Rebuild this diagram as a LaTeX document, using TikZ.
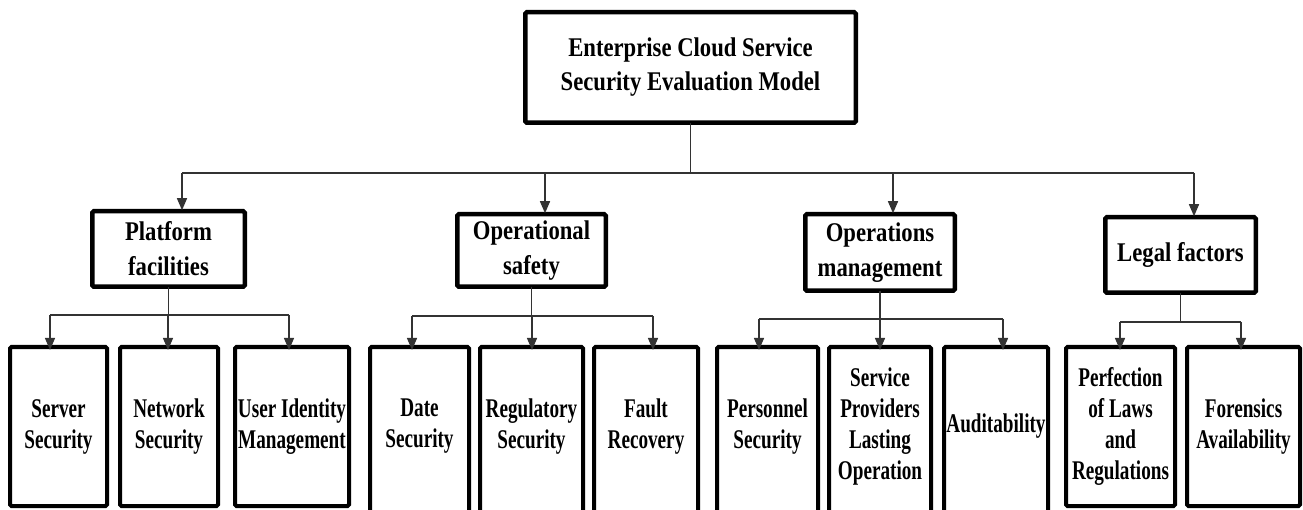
\documentclass[tikz,border=0pt]{standalone}
\usepackage{fontspec}
\newfontfamily\hdfont{Liberation Serif}[FakeStretch=0.84]
\newfontfamily\lffont{Liberation Serif}[FakeStretch=0.71]
\usetikzlibrary{arrows.meta,calc}

\begin{document}
\begin{tikzpicture}[x=1pt,y=-1pt,
  box/.style={draw, rectangle, rounded corners=1.5pt, outer sep=0pt, inner sep=1pt, align=center},
  titlebox/.style={box, line width=4.5pt, minimum width=330.5pt, minimum height=110.5pt,
    font=\hdfont\bfseries\fontsize{27}{34}\selectfont},
  headbox/.style={box, line width=4.5pt, font=\hdfont\bfseries\fontsize{27}{35}\selectfont},
  leafbox/.style={box, line width=4pt, minimum height=159pt,
    font=\lffont\bfseries\fontsize{27}{31}\selectfont},
  openleaf/.style={leafbox, draw=none},
  leafframe/.style={line width=4pt, rounded corners=1.5pt},
  conn/.style={draw=black!80, line width=1.3pt},
  arrow/.style={conn, -{Triangle[length=12pt,width=10pt]}},
]
\useasboundingbox (0,0) rectangle (1303,510);
\clip (0,0) rectangle (1303,510);

% root
\node[titlebox] (top) at (690.5,67.5) {Enterprise Cloud Service\\Security Evaluation Model};

% second level
\node[headbox, minimum width=152.5pt, minimum height=75.5pt] (plat) at (168.5,249) {Platform\\facilities};
\node[headbox, minimum width=148.5pt, minimum height=72.5pt] (opsf) at (531.5,250.5) {Operational\\safety};
\node[headbox, minimum width=149.5pt, minimum height=76.5pt] (opmg) at (880,252.5) {Operations\\management};
\node[headbox, minimum width=150.5pt, minimum height=75.5pt] (legl) at (1180.5,255) {Legal factors};

% leaves
\node[leafbox, minimum width=97pt]  (l1)  at (58.5,426.5)   {Server\\Security};
\node[leafbox, minimum width=98pt]  (l2)  at (169,426.5)    {Network\\Security};
\node[leafbox, minimum width=114pt] (l3)  at (292,426.5)    {User Identity\\Management};
\node[openleaf, minimum width=99pt]  (l4) at (419.5,426.5)  {Date\\Security};
\node[openleaf, minimum width=103pt] (l5) at (531.5,426.5)  {Regulatory\\Security};
\node[openleaf, minimum width=104pt] (l6) at (646,426.5)    {Fault\\Recovery};
\node[openleaf, minimum width=101pt] (l7) at (767.5,426.5)  {Personnel\\Security};
\node[openleaf, minimum width=102pt] (l8) at (880,426.5)    {Service\\Providers\\Lasting\\Operation};
\node[openleaf, minimum width=104pt] (l9) at (996,426.5)    {Auditability};
\node[leafbox, minimum width=109pt] (l10) at (1120.5,426.5) {Perfection\\of Laws\\and\\Regulations};
\node[leafbox, minimum width=113pt] (l11) at (1243.5,426.5) {Forensics\\Availability};

% frames of the leaves that run past the lower edge
\foreach \n in {l4,l5,l6,l7,l8,l9}
  \draw[leafframe] ($(\n.south west)+(0,12)$) -- (\n.north west) -- (\n.north east) -- ($(\n.south east)+(0,12)$);

% root to second level
\coordinate (hub) at (690.5,173);
\draw[conn, line width=1.6pt] (top.south) -- (hub);
\coordinate (platt) at ($(plat.north)+(13.5,-1)$);
\coordinate (opsft) at ($(opsf.north)+(13.5,-1)$);
\coordinate (opmgt) at ($(opmg.north)+(13,-1)$);
\coordinate (leglt) at ($(legl.north)+(13.5,-1)$);
\draw[conn] (hub -| platt) -- (hub -| leglt);
\foreach \h in {platt,opsft,opmgt,leglt}
  \draw[arrow] (hub -| \h) -- (\h);

% second level to leaves
\coordinate (pb) at (168.5,315);
\coordinate (ob) at (531.5,316);
\coordinate (mb) at (880,319);
\coordinate (gb) at (1180.5,322);
\draw[conn] (plat.south) -- (pb);
\draw[conn] (opsf.south) -- (ob);
\draw[conn] (opmg.south) -- (mb);
\draw[conn] (legl.south) -- (gb);
\foreach \n/\dx/\b in {l1/-8.5/pb,l2/-1/pb,l3/-3/pb,l4/-7.5/ob,l5/0.5/ob,l6/7/ob,
                       l7/-8.5/mb,l8/0/mb,l9/7/mb,l10/-0.5/gb,l11/-2.5/gb}{
  \coordinate (\n t) at ($(\n.north)+(\dx,3)$);
  \draw[arrow] (\b -| \n t) -- (\n t);
}
\draw[conn] (pb -| l1t) -- (pb -| l3t);
\draw[conn] (ob -| l4t) -- (ob -| l6t);
\draw[conn] (mb -| l7t) -- (mb -| l9t);
\draw[conn] (gb -| l10t) -- (gb -| l11t);
\end{tikzpicture}
\end{document}
